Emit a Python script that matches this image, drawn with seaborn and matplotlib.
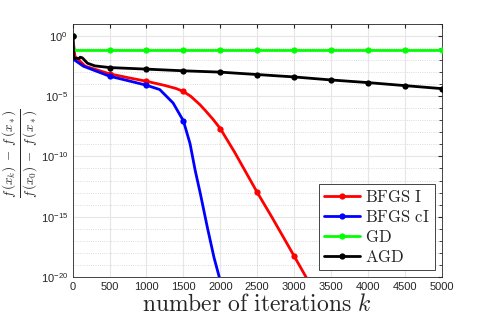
import seaborn as sns
import pandas as pd
import matplotlib.pyplot as plt
import numpy as np

# iterations and log10 of relative gap
k_bfgs = [0, 30, 170, 500, 750, 1000, 1250, 1400, 1500, 1600, 1725, 1800, 1900,
          2000, 2190, 2500, 2700, 2870, 3000, 3160, 3200]
log_bfgs = [0, -1.67, -2.5, -3.13, -3.45, -3.75, -4.1, -4.35, -4.6, -5.0, -5.7,
            -6.2, -6.9, -7.68, -9.6, -12.98, -15.05, -16.87, -18.27, -20.0, -20.5]

k_bfgs_ci = [0, 15, 145, 500, 750, 1000, 1180, 1360, 1500, 1590, 1660, 1730,
             1825, 1915, 1985, 2000]
log_bfgs_ci = [0, -1.94, -2.5, -3.33, -3.7, -4.08, -4.44, -5.55, -7.04, -8.93,
               -11.16, -13.1, -15.9, -18.4, -20.0, -20.4]

k_gd = [0, 5, 500, 1000, 1500, 2000, 2500, 3000, 3500, 4000, 4500, 5000]
log_gd = [0, -1.19, -1.19, -1.19, -1.19, -1.19, -1.19, -1.19, -1.19, -1.19,
          -1.19, -1.19]

k_agd = [0, 15, 90, 100, 130, 200, 300, 500, 1000, 1500, 2000, 2500, 3000,
         3500, 4000, 4500, 5000]
log_agd = [0, -1.85, -1.85, -1.75, -1.8, -2.25, -2.47, -2.61, -2.74, -2.88,
           -2.99, -3.19, -3.39, -3.64, -3.86, -4.11, -4.36]

labels = ['BFGS I', 'BFGS cI', 'GD', 'AGD']
colors = ['#ff0000', '#0000ff', '#00ff00', '#000000']
xticks = list(range(0, 5001, 500))
yticks = [1e0, 1e-5, 1e-10, 1e-15, 1e-20]
ytick_labels = ['0', '-5', '-10', '-15', '-20']

sns.set_style('white')
plt.rcParams['font.family'] = ['Liberation Sans', 'DejaVu Sans']
plt.rcParams['mathtext.fontset'] = 'cm'

fig = plt.figure(figsize=(4.88, 3.26), dpi=100)
ax = fig.add_axes([0.149, 0.151, 0.756, 0.775])

series = [(k_bfgs, log_bfgs), (k_bfgs_ci, log_bfgs_ci), (k_gd, log_gd),
          (k_agd, log_agd)]
for (kk, ll), lab, col in zip(series, labels, colors):
    df = pd.DataFrame({'k': kk, 'val': 10.0 ** np.array(ll)})
    marks = [i for i, v in enumerate(kk) if v % 500 == 0]
    sns.lineplot(x='k', y='val', data=df, ax=ax, color=col, linewidth=2.0,
                 marker='o', markersize=4.5, markeredgewidth=0,
                 markevery=marks, label=r'$\mathrm{' + lab.replace(' ', r'\ ') + '}$',
                 sort=False, estimator=None, zorder=3)

ax.set_yscale('log')
ax.set_xlim(0, 5000)
ax.set_ylim(1e-20, 1e1)
ax.set_xticks(xticks)
ax.set_yticks(yticks)
ax.set_yticklabels([r'$\mathregular{10^{' + t + '}}$' for t in ytick_labels])
ax.set_yticks([10.0 ** e for e in range(-20, 2)], minor=True)
ax.yaxis.set_minor_formatter(plt.NullFormatter())
ax.tick_params(which='both', direction='in', top=True, right=True,
               labelsize=8, colors='#262626', length=3)
ax.tick_params(which='minor', length=2)

ax.grid(True, which='major', color='#e6e6e6', linewidth=0.8)
ax.grid(True, which='minor', axis='y', color='#d0d0d0', linestyle=':',
        linewidth=0.6)
ax.set_axisbelow(True)
for sp in ax.spines.values():
    sp.set_color('#262626')
    sp.set_linewidth(0.6)

ax.set_xlabel(r'$\mathrm{number\ of\ iterations}\ k$', fontsize=17, labelpad=2)
ax.set_ylabel(r'$\frac{f\,(x_k)\;-\;f\,(x_*)}{f\,(x_0)\;-\;f\,(x_*)}$',
              fontsize=13.5)
ax.yaxis.set_label_coords(-0.09, 0.49)

leg = ax.legend(loc='lower right', fontsize=12, frameon=True, fancybox=False,
                edgecolor='#262626', framealpha=1, handlelength=2.2,
                handletextpad=0.3, borderpad=0.3, labelspacing=0.25,
                borderaxespad=0.4)
leg.get_frame().set_linewidth(0.6)

fig.savefig('out.png', dpi=100)
